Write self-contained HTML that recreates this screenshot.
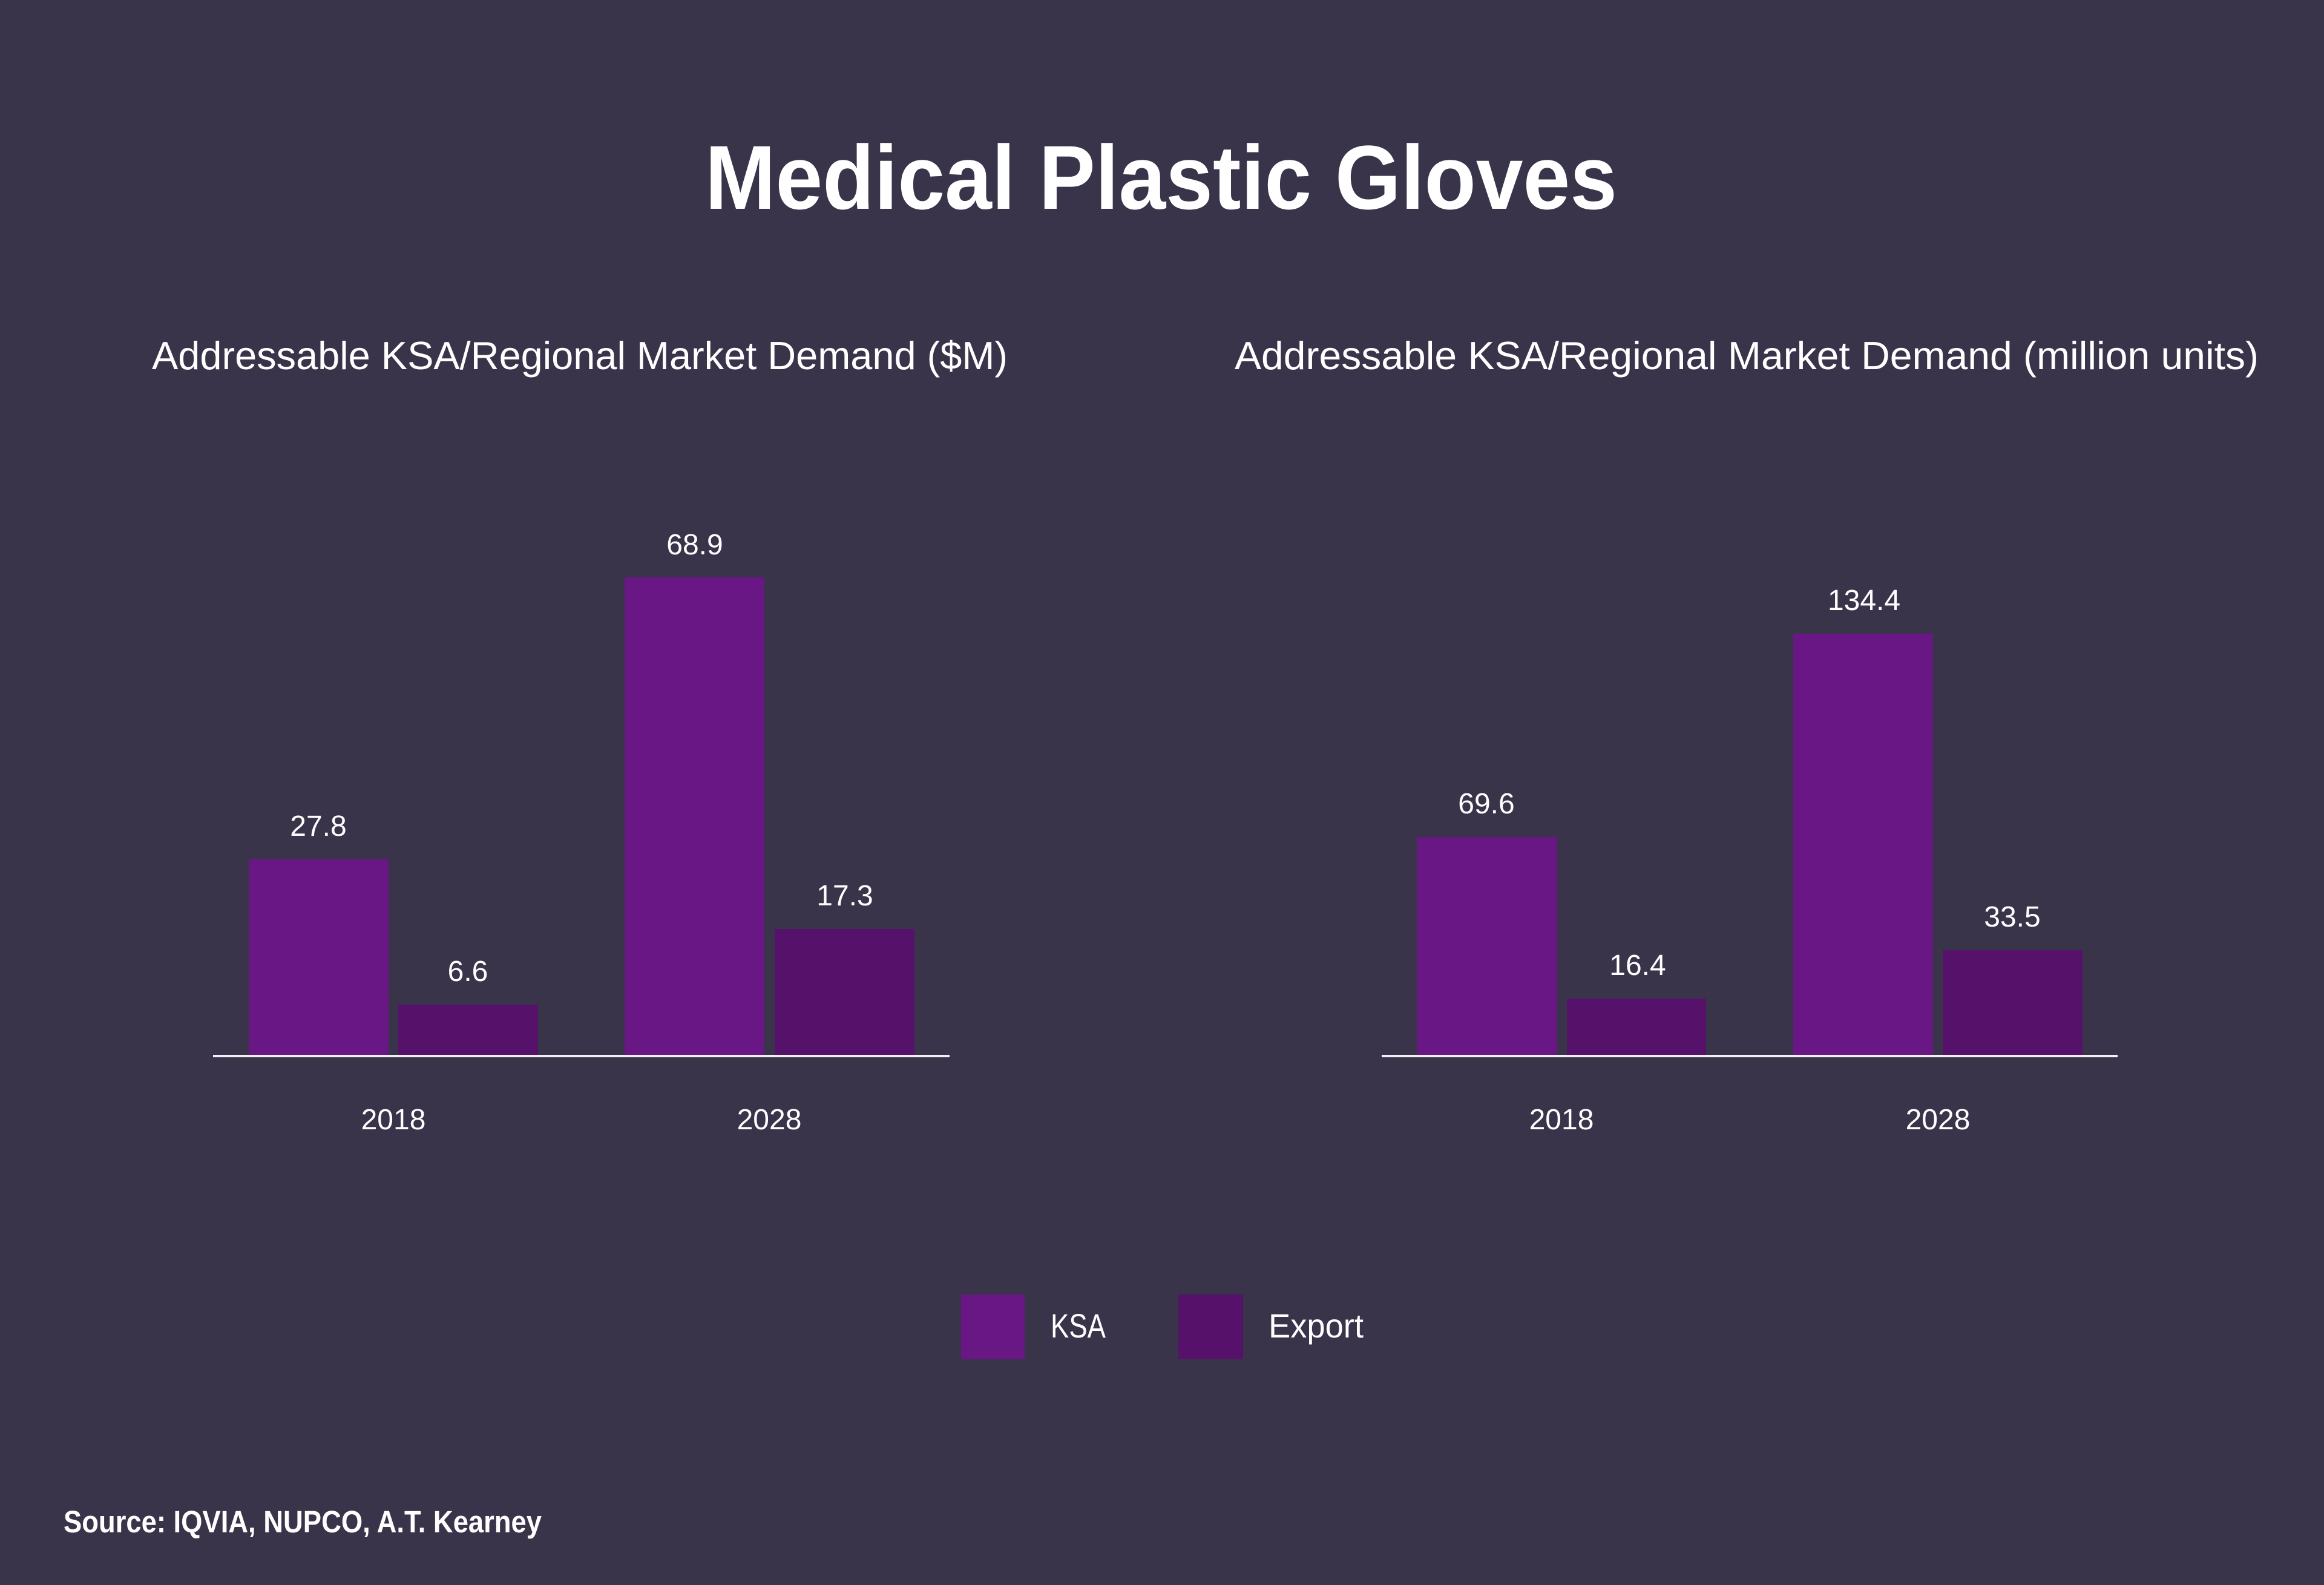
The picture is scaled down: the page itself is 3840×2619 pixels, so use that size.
<!DOCTYPE html>
<html>
<head>
<meta charset="utf-8">
<style>
  html, body { margin: 0; padding: 0; background: #3a344b; }
  svg { display: block; }
  text { font-family: "Liberation Sans", "DejaVu Sans", sans-serif; fill: #ffffff; }
</style>
</head>
<body>
<svg width="3840" height="2619" viewBox="0 0 3840 2619" xmlns="http://www.w3.org/2000/svg">
  <rect x="0" y="0" width="3840" height="2619" fill="#3a344b"/>

  <!-- Title -->
  <text x="1165" y="345" font-size="150" font-weight="bold" textLength="1507" lengthAdjust="spacingAndGlyphs">Medical Plastic Gloves</text>

  <!-- Subtitles -->
  <text x="251" y="610" font-size="65" textLength="1414" lengthAdjust="spacingAndGlyphs">Addressable KSA/Regional Market Demand ($M)</text>
  <text x="2040" y="610" font-size="65" textLength="1692" lengthAdjust="spacingAndGlyphs">Addressable KSA/Regional Market Demand (million units)</text>

  <!-- Left chart bars -->
  <rect x="411" y="1420" width="231" height="325" fill="#681784"/>
  <rect x="658" y="1660" width="231" height="85" fill="#56116b"/>
  <rect x="1032" y="954" width="231" height="791" fill="#681784"/>
  <rect x="1280" y="1535" width="231" height="210" fill="#56116b"/>
  <rect x="352" y="1743" width="1217" height="4" fill="#f2f0f5"/>

  <g font-size="48" text-anchor="middle">
    <text x="526" y="1381">27.8</text>
    <text x="773" y="1621">6.6</text>
    <text x="1148" y="916">68.9</text>
    <text x="1396" y="1496">17.3</text>
    <text x="650" y="1866">2018</text>
    <text x="1271" y="1866">2028</text>
  </g>

  <!-- Right chart bars -->
  <rect x="2341" y="1383" width="232" height="362" fill="#681784"/>
  <rect x="2589" y="1650" width="230" height="95" fill="#56116b"/>
  <rect x="2963" y="1047" width="231" height="698" fill="#681784"/>
  <rect x="3210" y="1570" width="231" height="175" fill="#56116b"/>
  <rect x="2283" y="1743" width="1216" height="4" fill="#f2f0f5"/>

  <g font-size="48" text-anchor="middle">
    <text x="2456" y="1344">69.6</text>
    <text x="2706" y="1611">16.4</text>
    <text x="3080" y="1008">134.4</text>
    <text x="3325" y="1531">33.5</text>
    <text x="2580" y="1866">2018</text>
    <text x="3202" y="1866">2028</text>
  </g>

  <!-- Legend -->
  <rect x="1588" y="2139" width="105" height="107" fill="#681784"/>
  <text x="1736" y="2210" font-size="56" textLength="91" lengthAdjust="spacingAndGlyphs">KSA</text>
  <rect x="1947" y="2139" width="107" height="107" fill="#56116b"/>
  <text x="2096" y="2210" font-size="56" textLength="157" lengthAdjust="spacingAndGlyphs">Export</text>

  <!-- Source -->
  <text x="105" y="2532" font-size="51" font-weight="bold" textLength="790" lengthAdjust="spacingAndGlyphs">Source: IQVIA, NUPCO, A.T. Kearney</text>
</svg>
</body>
</html>
